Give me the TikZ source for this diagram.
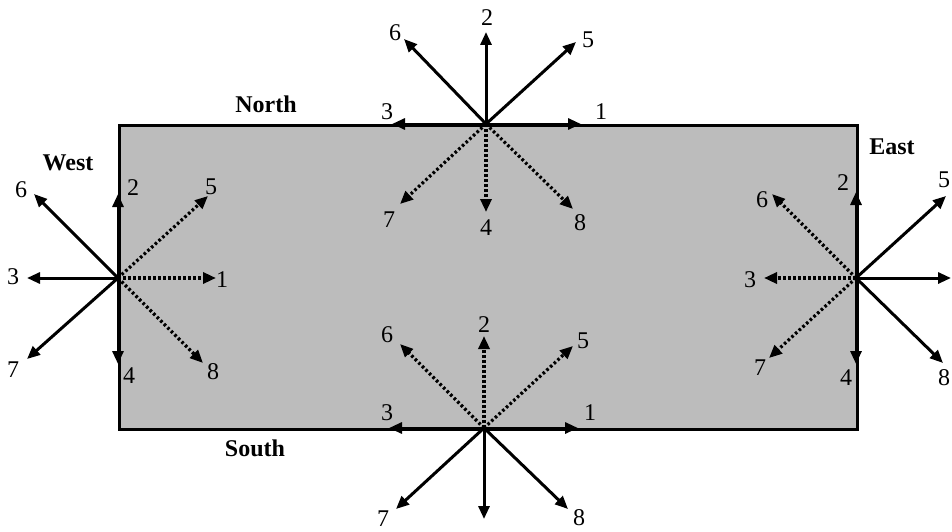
\documentclass[tikz,border=0pt]{standalone}
\usepackage{fontspec}
\setmainfont{Liberation Serif}
\usetikzlibrary{arrows.meta}
\definecolor{boxgray}{RGB}{188,188,188}
\tikzset{
  solidarr/.style={line width=3pt,-{Triangle[length=13pt,width=11pt]}},
  dotarr/.style={line width=3.2pt,dash pattern=on 2.6pt off 2.4pt,-{Triangle[length=13pt,width=11pt]}},
  lbl/.style={inner sep=0pt,font=\fontsize{24}{24}\selectfont},
  side/.style={inner sep=0pt,font=\fontsize{24}{24}\selectfont\bfseries},
}
\begin{document}
\begin{tikzpicture}[x=1pt,y=-1pt]
\useasboundingbox (0,0) rectangle (952,532);
\node[draw,line width=2.8pt,fill=boxgray,minimum width=738pt,minimum height=304pt,anchor=north west,inner sep=0pt] (box) at (118,124) {};
\coordinate (N) at (486,124);
\coordinate (S) at (484,428);
\coordinate (W) at (118,278);
\coordinate (E) at (856,278);
% side names
\node[side] (tN) at (266,104) {North};
\node[side] (tS) at (255,448) {South};
\node[side] (tW) at (68,163) {West};
\node[side] (tE) at (892,147) {East};
% North
\coordinate (N1) at (581,124); \coordinate (N2) at (486,32); \coordinate (N3) at (392,124);
\coordinate (N4) at (486,212); \coordinate (N5) at (576,42); \coordinate (N6) at (404,39);
\coordinate (N7) at (400,204); \coordinate (N8) at (573,209);
\draw[solidarr] (N) -- (N1); \draw[solidarr] (N) -- (N2); \draw[solidarr] (N) -- (N3);
\draw[solidarr] (N) -- (N5); \draw[solidarr] (N) -- (N6);
\draw[dotarr] (N) -- (N4); \draw[dotarr] (N) -- (N7); \draw[dotarr] (N) -- (N8);
\node[lbl] (nN1) at (601,112) {1}; \node[lbl] (nN2) at (487,18) {2}; \node[lbl] (nN3) at (387,112) {3};
\node[lbl] (nN4) at (486,228) {4}; \node[lbl] (nN5) at (588,40) {5}; \node[lbl] (nN6) at (395,33) {6};
\node[lbl] (nN7) at (389,220) {7}; \node[lbl] (nN8) at (580,223) {8};
% South
\coordinate (S1) at (578,428); \coordinate (S2) at (484,336); \coordinate (S3) at (389,428);
\coordinate (S4) at (484,519); \coordinate (S5) at (573,346); \coordinate (S6) at (400,344);
\coordinate (S7) at (396,509); \coordinate (S8) at (568,509);
\draw[solidarr] (S) -- (S1); \draw[solidarr] (S) -- (S3); \draw[solidarr] (S) -- (S4);
\draw[solidarr] (S) -- (S7); \draw[solidarr] (S) -- (S8);
\draw[dotarr] (S) -- (S2); \draw[dotarr] (S) -- (S5); \draw[dotarr] (S) -- (S6);
\node[lbl] (nS1) at (590,413) {1}; \node[lbl] (nS2) at (484,325) {2}; \node[lbl] (nS3) at (387,413) {3};
\node[lbl] (nS5) at (583,341) {5}; \node[lbl] (nS6) at (387,335) {6};
\node[lbl] (nS7) at (383,519) {7}; \node[lbl] (nS8) at (579,518) {8};
% West
\coordinate (W1) at (216,278); \coordinate (W2) at (118,194); \coordinate (W3) at (27,278);
\coordinate (W4) at (118,364); \coordinate (W5) at (208,196); \coordinate (W6) at (34,194);
\coordinate (W7) at (27,359); \coordinate (W8) at (203,363);
\draw[solidarr] (W) -- (W2); \draw[solidarr] (W) -- (W3); \draw[solidarr] (W) -- (W4);
\draw[solidarr] (W) -- (W6); \draw[solidarr] (W) -- (W7);
\draw[dotarr] (W) -- (W1); \draw[dotarr] (W) -- (W5); \draw[dotarr] (W) -- (W8);
\node[lbl] (nW1) at (222,280) {1}; \node[lbl] (nW2) at (133,188) {2}; \node[lbl] (nW3) at (13,277) {3};
\node[lbl] (nW4) at (129,376) {4}; \node[lbl] (nW5) at (211,187) {5}; \node[lbl] (nW6) at (21,190) {6};
\node[lbl] (nW7) at (13,370) {7}; \node[lbl] (nW8) at (213,372) {8};
% East
\coordinate (E1) at (951,278); \coordinate (E2) at (856,192); \coordinate (E3) at (764,278);
\coordinate (E4) at (856,364); \coordinate (E5) at (946,196); \coordinate (E6) at (772,194);
\coordinate (E7) at (769,358); \coordinate (E8) at (943,363);
\draw[solidarr] (E) -- (E1); \draw[solidarr] (E) -- (E2); \draw[solidarr] (E) -- (E4);
\draw[solidarr] (E) -- (E5); \draw[solidarr] (E) -- (E8);
\draw[dotarr] (E) -- (E3); \draw[dotarr] (E) -- (E6); \draw[dotarr] (E) -- (E7);
\node[lbl] (nE2) at (843,183) {2}; \node[lbl] (nE3) at (750,280) {3};
\node[lbl] (nE4) at (846,378) {4}; \node[lbl] (nE5) at (944,180) {5}; \node[lbl] (nE6) at (762,200) {6};
\node[lbl] (nE7) at (760,368) {7}; \node[lbl] (nE8) at (944,378) {8};
\end{tikzpicture}
\end{document}
